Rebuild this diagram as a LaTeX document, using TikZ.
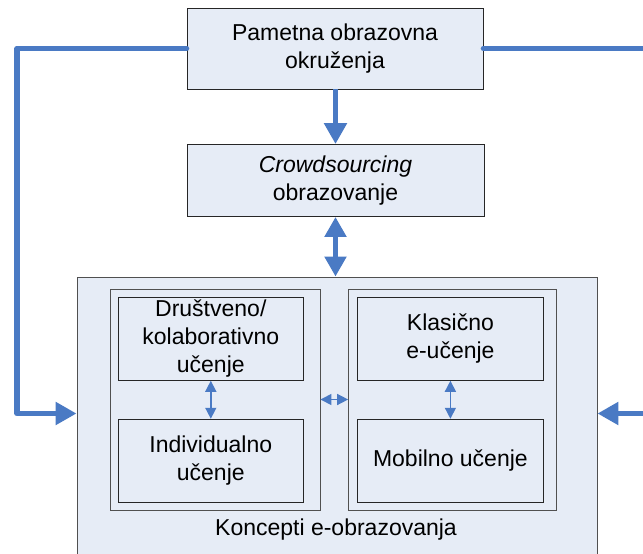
\documentclass[tikz,border=0pt]{standalone}
\usepackage{fontspec}
\setmainfont{Liberation Sans}
\usetikzlibrary{arrows.meta}
\definecolor{boxfill}{RGB}{230,236,246}
\definecolor{flow}{RGB}{74,122,196}
\definecolor{frameline}{RGB}{80,80,80}
\tikzset{
  box/.style={draw=black!85, line width=0.9pt, fill=boxfill, align=center,
    inner sep=0pt, font=\fontsize{23}{28}\selectfont},
  groupbox/.style={draw=frameline, line width=0.9pt, fill=boxfill, inner sep=0pt},
  bigconn/.style={draw=flow, line width=5.5pt, line cap=round, line join=round,
    -{Triangle[length=21pt,width=22pt]}},
  bigtwo/.style={draw=flow, line width=5.5pt,
    {Triangle[length=20pt,width=21pt]}-{Triangle[length=20pt,width=21pt]}},
  smalltwo/.style={draw=flow, line width=1.5pt,
    {Triangle[length=11pt,width=11pt]}-{Triangle[length=11pt,width=11pt]}},
}
\begin{document}
\begin{tikzpicture}[x=1pt,y=-1pt]
\useasboundingbox (0,0) rectangle (643,554);
\clip (0,0) rectangle (643,554);
\fill[white] (0,0) rectangle (643,554);

% top level
\node[box, minimum width=296pt, minimum height=81pt] (smart) at (335,48.5)
  {Pametna obrazovna\\okruženja};
\node[box, minimum width=297pt, minimum height=72pt] (crowd) at (335.5,180.5)
  {\textit{Crowdsourcing}\\obrazovanje};

% e-learning concepts container (runs past the lower edge)
\node[groupbox, minimum width=520pt, minimum height=300pt] (outer) at (337,427) {};
\node[font=\fontsize{23}{28}\selectfont] (concepts) at (336,530) {Koncepti e-obrazovanja};

% two groups
\node[groupbox, minimum width=210pt, minimum height=221pt] (lgrp) at (215,399.5) {};
\node[groupbox, minimum width=208pt, minimum height=221pt] (rgrp) at (452.6,399.5) {};

\node[box, minimum width=185.5pt, minimum height=83pt] (social) at (210.8,338.8)
  {Društveno/\\kolaborativno\\učenje};
\node[box, minimum width=185.5pt, minimum height=83pt] (indiv) at (210.8,460.7)
  {Individualno\\učenje};
\node[box, minimum width=185.5pt, minimum height=83pt] (classic) at (450.4,338.8)
  {Klasično\\e-učenje};
\node[box, minimum width=185.5pt, minimum height=83pt] (mobile) at (450.4,460.7)
  {Mobilno učenje};

% connectors
\draw[bigconn, line cap=butt] (smart.south -| crowd.north) -- (crowd.north);
\draw[bigtwo] (crowd.south) -- (crowd.south |- outer.north);

\coordinate (loopL) at (17,413.5);
\coordinate (loopR) at (665,413.5);
\draw[bigconn] (smart.west) -| (loopL) -- (loopL -| outer.west);
\draw[bigconn] (smart.east) -| (loopR) -- (loopR -| outer.east);

\draw[smalltwo] (social.south) -- (indiv.north);
\draw[smalltwo] (classic.south) -- (mobile.north);
\draw[smalltwo] (lgrp.east) -- (rgrp.west);
\end{tikzpicture}
\end{document}
